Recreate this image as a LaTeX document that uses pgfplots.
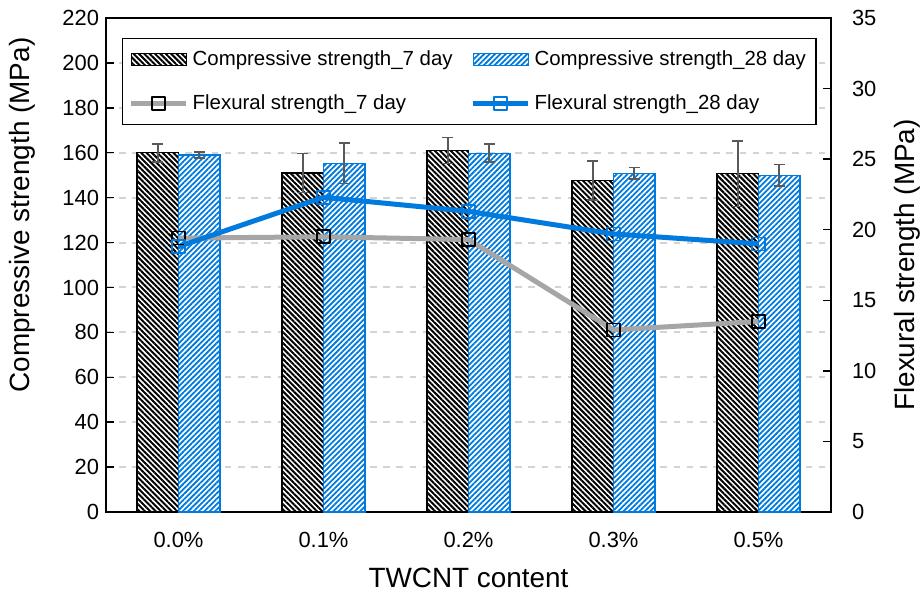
\documentclass[border=0pt]{standalone}
\usepackage{fontspec}
\setmainfont{Liberation Sans}
\usepackage{pgfplots}
\usepackage{pgfplotstable}
\pgfplotsset{compat=1.18}
\usetikzlibrary{patterns.meta}

\definecolor{cblue}{RGB}{0,122,220}
\definecolor{lgray}{RGB}{166,166,166}
\definecolor{errgray}{RGB}{89,89,89}
\definecolor{gridgray}{RGB}{212,212,212}

% compressive strength (MPa) with error, flexural strength (MPa)
\pgfplotstableread{
x  c7     e7    c28    e28   f7    f28
0  160.0  4.0   159.0  1.2   19.4  18.8
1  151.0  8.7   155.3  9.0   19.5  22.3
2  161.0  5.8   159.8  4.0   19.3  21.3
3  147.6  8.6   150.9  2.5   12.9  19.7
4  150.6  14.5  150.0  4.7   13.5  19.0
}\datatable

\pgfplotsset{
  common/.style={
    scale only axis, width=362.5bp, height=247bp,
    xmin=-0.5, xmax=4.5,
    tick align=inside, major tick length=4bp,
    every tick/.style={black, line width=0.75bp},
    axis line style={black, line width=0.75bp},
    tick label style={font=\fontsize{11}{13}\selectfont},
    /pgf/number format/assume math mode=true,
  },
  c7style/.style={fill=white, draw=black, line width=0.6bp,
    postaction={pattern={Lines[angle=-45,distance=1.9bp,line width=1bp]}, pattern color=black}},
  c28style/.style={fill=white, draw=cblue, line width=0.6bp,
    postaction={pattern={Lines[angle=45,distance=1.9bp,line width=0.9bp]}, pattern color=cblue}},
  barlegend/.style={legend image code/.code={%
    \draw[##1] (0bp,-2.9bp) rectangle (27.5bp,2.9bp);}},
  linelegend/.style={legend image code/.code={%
    \draw[##1,mark repeat=2,mark phase=2] plot coordinates {(0bp,0bp) (13.75bp,0bp) (27.5bp,0bp)};}},
}

\begin{document}
\begin{tikzpicture}
\useasboundingbox (-53bp,-40bp) rectangle (408bp,256bp);

% compressive strength bars on the left axis
\begin{axis}[common,
  ymin=0, ymax=220, ytick={0,20,...,220}, ytick pos=left,
  xtick={0,...,4}, xticklabels={0.0\%,0.1\%,0.2\%,0.3\%,0.5\%},
  x tick style={draw=none},
  xticklabel style={yshift=-6.5bp},
  ymajorgrids, grid style={gridgray, dash pattern=on 3.3bp off 3.3bp, line width=1bp},
  every axis y label/.style={at={(axis description cs:-0.116,0.601)}, rotate=90, anchor=center,
    font=\fontsize{14}{16}\selectfont},
  every axis x label/.style={at={(axis description cs:0.5,-0.1336)}, anchor=center,
    font=\fontsize{14}{16}\selectfont},
  ylabel={Compressive strength (MPa)},
  xlabel={TWCNT content},
  error bars/error bar style={errgray, line width=0.85bp},
  error bars/error mark options={rotate=90, mark size=2.7bp, errgray, line width=0.85bp},
]
\addplot[ybar, bar width=0.2865, bar shift=0, c7style,
  error bars/.cd, y dir=both, y explicit]
  table[x expr=\thisrow{x}-0.14325, y=c7, y error=e7] {\datatable};
\addplot[ybar, bar width=0.2865, bar shift=0, c28style,
  error bars/.cd, y dir=both, y explicit]
  table[x expr=\thisrow{x}+0.14325, y=c28, y error=e28] {\datatable};
\end{axis}

% flexural strength lines on the right axis
\begin{axis}[common,
  ymin=0, ymax=35, ytick={0,5,...,35},
  axis x line=none, axis y line*=right,
  yticklabel style={xshift=7bp},
  every axis y label/.style={at={(axis description cs:1.105,0.5)}, rotate=90, anchor=center,
    font=\fontsize{14}{16}\selectfont},
  ylabel={Flexural strength (MPa)},
  legend columns=2,
  legend cell align=left,
  legend style={at={(axis description cs:0.022,0.960)}, anchor=north west,
    draw=black, line width=0.75bp, fill=white,
    font=\fontsize{10.25}{12}\selectfont,
    inner xsep=3bp, inner ysep=4bp, row sep=9.2bp,
    /tikz/every even column/.append style={column sep=7bp}},
]
\addlegendimage{c7style, barlegend}
\addlegendentry{Compressive strength\_7 day}
\addlegendimage{c28style, barlegend}
\addlegendentry{Compressive strength\_28 day}
\addplot[lgray, line width=2.5bp, line join=round, linelegend,
  mark=square, mark size=3.25bp, mark options={draw=black, fill=none, line width=0.8bp}]
  table[x=x, y=f7] {\datatable};
\addlegendentry{Flexural strength\_7 day}
\addplot[cblue, line width=2.5bp, line join=round, linelegend,
  mark=square, mark size=3.25bp, mark options={draw=cblue, fill=none, line width=0.8bp}]
  table[x=x, y=f28] {\datatable};
\addlegendentry{Flexural strength\_28 day}
\end{axis}
\end{tikzpicture}
\end{document}
